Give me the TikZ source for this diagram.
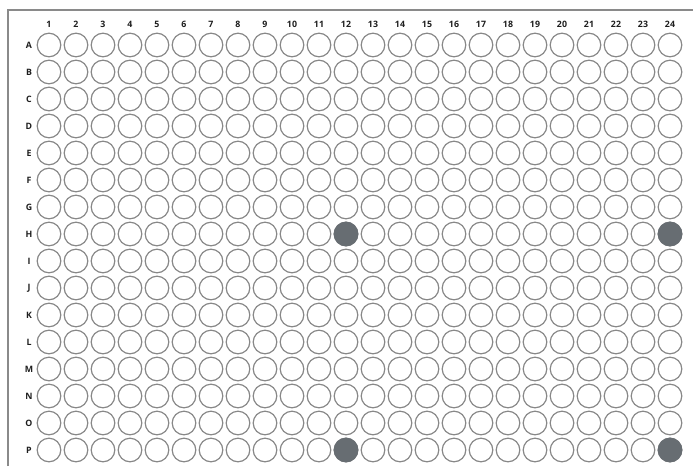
\documentclass[tikz,border=0pt]{standalone}
\usepackage{fontspec}
\setmainfont{Open Sans}
\definecolor{wellline}{HTML}{888888}
\definecolor{wellfill}{HTML}{676D72}
\definecolor{frameline}{HTML}{8A8A8A}
\definecolor{labeltext}{HTML}{1E1E1E}
\begin{document}
\begin{tikzpicture}[x=1pt,y=-1pt,
  well/.style={circle,draw=wellline,line width=1.2pt,minimum size=23.6pt,inner sep=0pt},
  filledwell/.style={well,fill=wellfill,draw=wellfill},
  lbl/.style={font=\fontsize{8.8}{10}\selectfont\bfseries,text=labeltext,inner sep=0pt}]
\useasboundingbox (0,0) rectangle (693,466);
\fill[white] (0,0) rectangle (693,466);
\draw[frameline,line width=1.3pt] (8,466) -- (8,10) -- (693,10);
\foreach \c in {1,...,24} {
  \node[lbl] (col\c) at ({49+27*(\c-1)},24) {\c};
}
\foreach \r [count=\i from 1] in {A,B,C,D,E,F,G,H,I,J,K,L,M,N,O,P} {
  \node[lbl] (row\r) at (29,{45+27*(\i-1)}) {\r};
  \foreach \c in {1,...,24} {
    \node[well] (w\r\c) at ({49+27*(\c-1)},{45+27*(\i-1)}) {};
  }
}
\node[filledwell] at (wH12) {};
\node[filledwell] at (wH24) {};
\node[filledwell] at (wP12) {};
\node[filledwell] at (wP24) {};
\end{tikzpicture}
\end{document}
